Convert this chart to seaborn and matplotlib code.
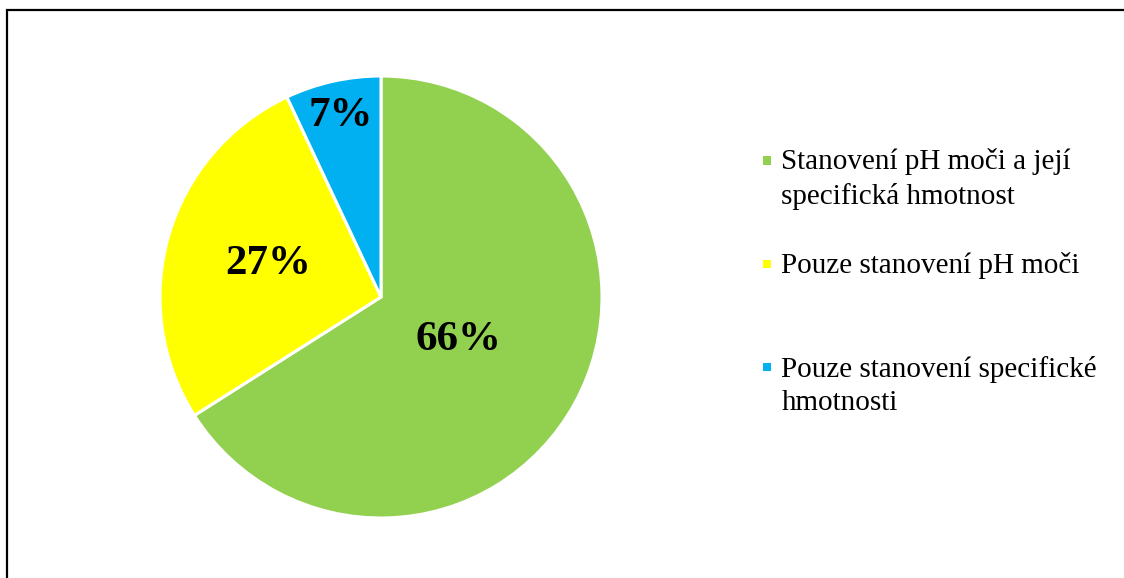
import numpy as np
import matplotlib
matplotlib.use("Agg")
import matplotlib.pyplot as plt
import seaborn as sns
from matplotlib.patches import Rectangle
from matplotlib.legend_handler import HandlerPatch

# data
kategorie = [
    "Stanovení pH moči a její\nspecifická hmotnost",
    "Pouze stanovení pH moči\n",
    "Pouze stanovení specifické\nhmotnosti",
]
podily = [66, 27, 7]
barvy = ["#92D050", "#FFFF00", "#00B0F0"]
# vzdálenost popisku od středu (v poloměrech)
popisek_r = [0.40, 0.53, 0.84]

sns.set_style("white")
plt.rcParams["font.family"] = ["Liberation Serif", "DejaVu Serif"]
plt.rcParams["text.color"] = "black"

fig = plt.figure(figsize=(11.24, 5.78), dpi=100)
ax = fig.add_axes([381 / 1124 - 221 / 1124, (578 - 297 - 221) / 578, 442 / 1124, 442 / 578])

wedges, texts, autotexts = ax.pie(
    podily,
    colors=barvy,
    startangle=90,
    counterclock=False,
    autopct="%1.0f%%",
    wedgeprops=dict(edgecolor="white", linewidth=2.2),
    textprops=dict(fontsize=31, fontweight="bold", color="black"),
)
for w, t, r in zip(wedges, autotexts, popisek_r):
    uhel = np.deg2rad((w.theta1 + w.theta2) / 2)
    t.set_position((r * np.cos(uhel), r * np.sin(uhel)))
ax.set_xlim(-1, 1)
ax.set_ylim(-1, 1)
ax.set_aspect("equal")
ax.axis("off")


class CtverecNahore(HandlerPatch):
    """Čtvereček legendy zarovnaný k prvnímu řádku textu."""
    def create_artists(self, legend, orig_handle, xdescent, ydescent,
                       width, height, fontsize, trans):
        s = 0.28 * fontsize
        x = width - s - 0.05 * fontsize
        y = height / 2 - s / 2 + 0.62 * fontsize
        p = Rectangle((x - xdescent, y - ydescent), s, s,
                      facecolor=orig_handle.get_facecolor(), edgecolor="none",
                      transform=trans)
        return [p]


handles = [Rectangle((0, 0), 1, 1, facecolor=c) for c in barvy]
leg = fig.legend(
    handles, kategorie,
    loc="upper left",
    bbox_to_anchor=(755 / 1124, 1 - 148 / 578),
    frameon=False,
    fontsize=21,
    handler_map={Rectangle: CtverecNahore()},
    handlelength=0.6,
    handletextpad=0.3,
    labelspacing=1.47,
    borderaxespad=0,
    borderpad=0,
)
for t in leg.get_texts():
    t.set_linespacing(1.36)

# rámeček grafu
fig.add_artist(Rectangle((7 / 1124, -0.1), 1.2, 1.1 - 10 / 578, fill=False,
                         edgecolor="black", linewidth=1.6, transform=fig.transFigure))

fig.savefig("out.png", dpi=100)
